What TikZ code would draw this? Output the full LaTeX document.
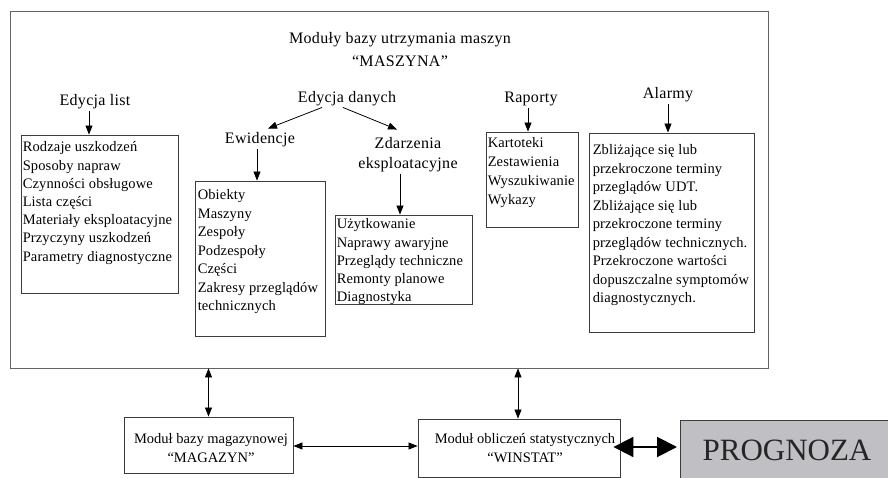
\documentclass[tikz,border=0pt]{standalone}
\usepackage{fontspec}
\setmainfont{Liberation Serif}
\usetikzlibrary{arrows.meta}
\definecolor{lineg}{RGB}{60,60,60}
\definecolor{frameg}{RGB}{100,100,100}
\definecolor{progfill}{RGB}{192,192,196}
\tikzset{
  box/.style={draw=lineg, line width=0.9pt, inner sep=0pt},
  btxt/.style={inner sep=0pt, align=left, anchor=north west, font=\fontsize{14.5}{18.2}\selectfont\addfontfeature{LetterSpace=1}},
  lbl/.style={inner sep=2pt, align=center, font=\fontsize{16}{20}\selectfont\addfontfeature{LetterSpace=2}},
  arr/.style={draw=black, line width=0.8pt, -{Triangle[length=9pt,width=7pt]}},
  darr/.style={draw=black, line width=0.8pt, {Triangle[length=9pt,width=7pt]}-{Triangle[length=9pt,width=7pt]}},
  bigarr/.style={draw=black, line width=2pt, {Triangle[length=20pt,width=20pt]}-{Triangle[length=20pt,width=20pt]}}
}
\begin{document}
\begin{tikzpicture}[x=1pt,y=-1pt]
\useasboundingbox (0,0) rectangle (888,478);
\fill[white] (0,0) rectangle (888,478);
% main frame
\node[box, draw=frameg, minimum width=758pt, minimum height=357pt] (main) at (389,189.5) {};
\node[lbl, font=\fontsize{16}{23}\selectfont\addfontfeature{LetterSpace=2}] (title) at (400,50) {Moduły bazy utrzymania maszyn\\“MASZYNA”};
% labels
\node[lbl] (edlist) at (95,102) {Edycja list};
\node[lbl] (eddan) at (347,99) {Edycja danych};
\node[lbl] (ewid) at (260,140) {Ewidencje};
\node[lbl] (zdarz) at (408,155) {Zdarzenia\\eksploatacyjne};
\node[lbl] (rap) at (531,99) {Raporty};
\node[lbl] (alarm) at (668,95) {Alarmy};
% boxes
\node[box, minimum width=157pt, minimum height=158pt] (listbox) at (99.5,214) {};
\node[box, minimum width=130pt, minimum height=155pt] (ewbox) at (260,258.5) {};
\node[box, minimum width=137pt, minimum height=89pt] (zdbox) at (403.5,259.5) {};
\node[box, minimum width=92pt, minimum height=95pt] (rapbox) at (532,179.5) {};
\node[box, minimum width=165pt, minimum height=199pt] (alarmbox) at (671.5,232.5) {};
% box texts
\node[btxt] (listtxt) at ([xshift=2pt,yshift=-7pt]listbox.north west) {Rodzaje uszkodzeń\\Sposoby napraw\\Czynności obsługowe\\Lista części\\Materiały eksploatacyjne\\Przyczyny uszkodzeń\\Parametry diagnostyczne};
\node[btxt, font=\fontsize{14.5}{18.5}\selectfont\addfontfeature{LetterSpace=1}] (ewtxt) at ([xshift=3pt,yshift=-9pt]ewbox.north west) {Obiekty\\Maszyny\\Zespoły\\Podzespoły\\Części\\Zakresy przeglądów\\technicznych};
\node[btxt] (zdtxt) at ([xshift=2pt,yshift=-4pt]zdbox.north west) {Użytkowanie\\Naprawy awaryjne\\Przeglądy techniczne\\Remonty planowe\\Diagnostyka};
\node[btxt, font=\fontsize{14.5}{19}\selectfont\addfontfeature{LetterSpace=1}] (raptxt) at ([xshift=2pt,yshift=-6pt]rapbox.north west) {Kartoteki\\Zestawienia\\Wyszukiwanie\\Wykazy};
\node[btxt, font=\fontsize{14.5}{18.5}\selectfont\addfontfeature{LetterSpace=1}] (alarmtxt) at ([xshift=4pt,yshift=-12pt]alarmbox.north west) {Zbliżające się lub\\przekroczone terminy\\przeglądów UDT.\\Zbliżające się lub\\przekroczone terminy\\przeglądów technicznych.\\Przekroczone wartości\\dopuszczalne symptomów\\diagnostycznych.};
% arrows in main frame
\draw[arr] ([xshift=-6pt]edlist.south) -- ([xshift=-6pt]edlist.south |- listbox.north);
\draw[arr] ([xshift=-25pt,yshift=1pt]eddan.south) -- ([xshift=8pt,yshift=2pt]ewid.north);
\draw[arr] ([xshift=-4pt,yshift=1pt]eddan.south) -- ([xshift=-11pt,yshift=6pt]zdarz.north);
\draw[arr] ([xshift=-3pt]ewid.south) -- ([xshift=-3pt]ewid.south |- ewbox.north);
\draw[arr] ([xshift=-8pt]zdarz.south) -- ([xshift=-8pt]zdarz.south |- zdbox.north);
\draw[arr] ([xshift=-3pt]rap.south) -- ([xshift=-3pt]rap.south |- rapbox.north);
\draw[arr] (alarm.south) -- (alarm.south |- alarmbox.north);
% bottom boxes
\node[box, minimum width=169pt, minimum height=56pt] (magbox) at (208.5,445) {};
\node[box, minimum width=202pt, minimum height=58pt] (winbox) at (519,448) {};
\node[inner sep=0pt, align=center, font=\fontsize{14.5}{19}\selectfont] (magtxt) at (211,448) {Moduł bazy magazynowej\\“MAGAZYN”};
\node[inner sep=0pt, align=center, font=\fontsize{14.5}{19}\selectfont] (wintxt) at (525,448) {Moduł obliczeń statystycznych\\“WINSTAT”};
\node[box, fill=progfill, anchor=north west, minimum width=210pt, minimum height=62pt] (progbox) at (680,420) {};
\node[inner sep=0pt, font=\fontsize{31}{36}\selectfont, text=black!85] (progtxt) at (787,450) {PROGNOZA};
% connectors
\draw[darr] (main.south -| magbox.north) -- (magbox.north);
\draw[darr] (main.south -| 518,0) -- (518,0 |- winbox.north);
\draw[darr] (magbox.east |- 0,446) -- (winbox.west |- 0,446);
\draw[bigarr] ([xshift=-7pt]winbox.east |- 0,447) -- ([xshift=-3pt]progbox.west |- 0,447);
\end{tikzpicture}
\end{document}
